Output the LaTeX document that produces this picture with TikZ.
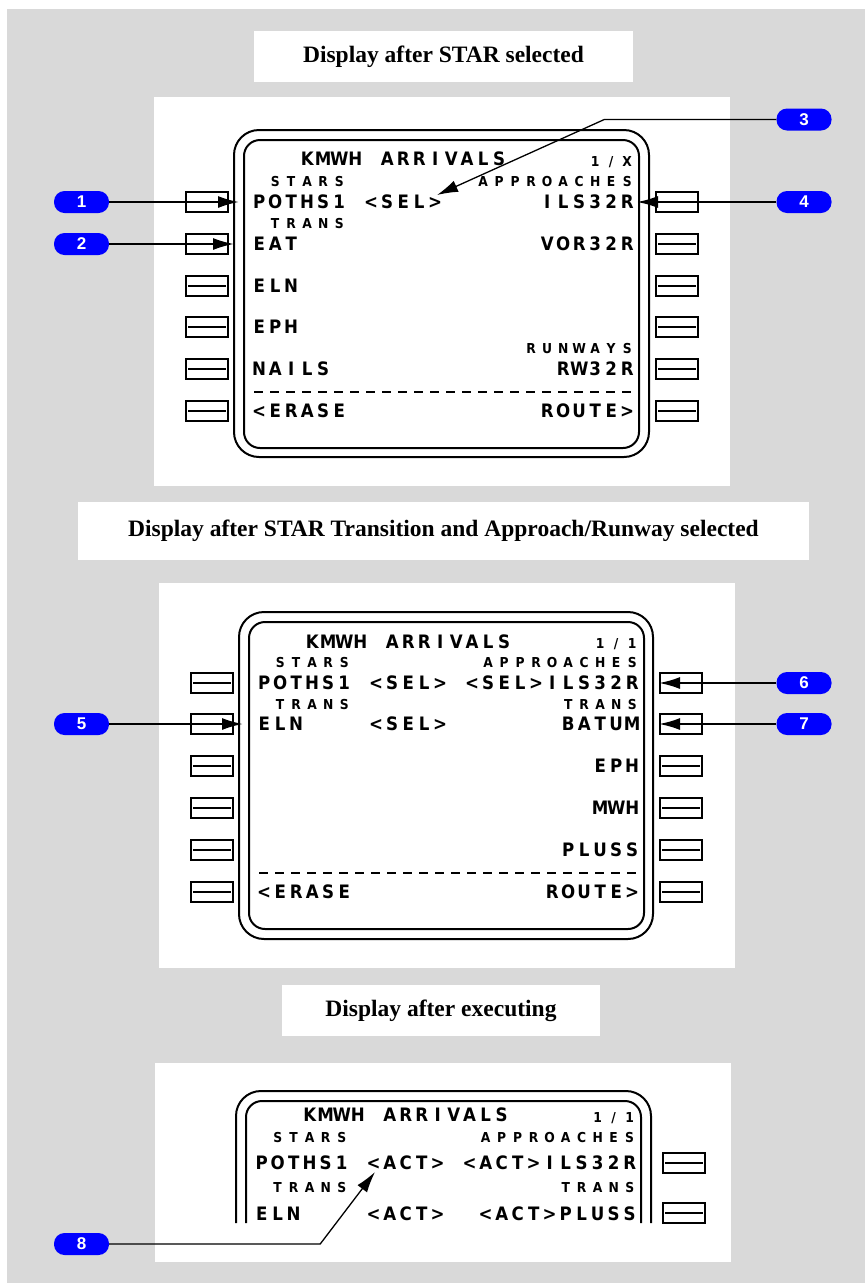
\documentclass[tikz,border=0pt]{standalone}
\usepackage{fontspec}
\setmainfont{Liberation Serif}
\setsansfont{Liberation Sans}
\newfontfamily\cdufont{DejaVu Sans Condensed}
\usetikzlibrary{arrows.meta}

% one character per cell of the CDU grid
\makeatletter
\def\cdu@end{\cdu@end}
\newcommand\spaced[1]{\cdu@next#1\cdu@end}
\def\cdu@next#1{\ifx#1\cdu@end\else\makebox[16pt]{#1}\expandafter\cdu@next\fi}
\makeatother

\tikzset{
  cdubig/.style={font=\cdufont\bfseries\fontsize{18.5}{20}\selectfont,anchor=west,inner sep=0pt,text height=13.5pt,text depth=0pt},
  cdusmall/.style={cdubig,font=\cdufont\bfseries\fontsize{13.7}{15}\selectfont,text height=10pt},
  screen/.style={line width=2pt},
  lsk/.style={draw,line width=2pt,minimum width=42pt,minimum height=20pt,inner sep=0pt},
  keybar/.style={line width=2pt},
  pill/.style={fill=blue,rounded corners=10.5pt,minimum width=55pt,minimum height=22pt,inner sep=0pt,text=white,font=\sffamily\bfseries\fontsize{17}{18}\selectfont},
  call/.style={line width=2pt,-{Latex[length=21pt,width=12pt]}},
  callthin/.style={call,line width=1.3pt},
  title/.style={fill=white,inner sep=0pt,font=\bfseries\fontsize{23.5}{26}\selectfont}
}

\begin{document}
\begin{tikzpicture}[x=1pt,y=-1pt]
  \useasboundingbox (0,0) rectangle (865,1283);
  \fill[gray!30] (7,9) rectangle (865,1283);
  % white panels
  \fill[white] (154,97) rectangle (730,486);
  \fill[white] (159,583) rectangle (735,968);
  \fill[white] (155,1063) rectangle (731,1262);
  % headings
  \node[title,minimum width=379pt,minimum height=51pt] (head1) at (443.5,56.5) {Display after STAR selected};
  \node[title,minimum width=731pt,minimum height=58pt] (head2) at (443.5,531) {Display after STAR Transition and Approach/Runway selected};
  \node[title,minimum width=318pt,minimum height=51pt] (head3) at (441,1010.5) {Display after executing};

  % display 1: after STAR selected
  \begin{scope}[shift={(234,130)}]
    \draw[screen,rounded corners=25pt] (0,0) rectangle (415,327);
    \draw[screen,rounded corners=16pt] (10,10) rectangle (405,318);
    \foreach \y [count=\i from 0] in {72,114,156,197,239,281} {
      \node[lsk] (d1l\i) at (-27,\y) {};
      \node[lsk] (d1r\i) at (443,\y) {};
    }
    \foreach \i in {2,...,5}
      \draw[keybar] ([xshift=3pt]d1l\i.west) -- ([xshift=-3pt]d1l\i.east);
    \foreach \i in {1,...,5}
      \draw[keybar] ([xshift=3pt]d1r\i.west) -- ([xshift=-3pt]d1r\i.east);
    \begin{scope}[xshift=17pt,x=16pt]
      \node[cdubig] (d1head) at (3,29) {\spaced{KMWH~ARRIVALS}};
      \node[cdusmall] (d1page) at (21,31) {\spaced{1/X}};
      \node[cdusmall] (d1stars) at (1,51.5) {\spaced{STARS}};
      \node[cdusmall] (d1appr) at (14,51.5) {\spaced{APPROACHES}};
      \node[cdubig] (d1star) at (0,72) {\spaced{POTHS1}};
      \node[cdubig] (d1sel) at (7,72) {\spaced{<SEL>}};
      \node[cdubig] (d1ils) at (18,72) {\spaced{ILS32R}};
      \node[cdusmall] (d1trans) at (1,93) {\spaced{TRANS}};
      \node[cdubig] (d1eat) at (0,114) {\spaced{EAT}};
      \node[cdubig] (d1vor) at (18,114) {\spaced{VOR32R}};
      \node[cdubig] (d1eln) at (0,156) {\spaced{ELN}};
      \node[cdubig] (d1eph) at (0,197) {\spaced{EPH}};
      \node[cdusmall] (d1rwys) at (17,218.5) {\spaced{RUNWAYS}};
      \node[cdubig] (d1nails) at (0,239) {\spaced{NAILS}};
      \node[cdubig] (d1rw) at (19,239) {\spaced{RW32R}};
      \draw[line width=1.6pt,dash pattern=on 9pt off 7pt] (0.2,262) -- (23.8,262);
      \node[cdubig] (d1erase) at (0,281) {\spaced{<ERASE}};
      \node[cdubig] (d1route) at (18,281) {\spaced{ROUTE>}};
    \end{scope}
    \coordinate (t1) at (5,72);
    \coordinate (t2) at (0,114);
    \coordinate (t3) at (203,65);
    \coordinate (t4) at (403,72);
  \end{scope}

  % display 2: after transition and approach selected
  \begin{scope}[shift={(239,612)}]
    \draw[screen,rounded corners=25pt] (0,0) rectangle (414,327);
    \draw[screen,rounded corners=16pt] (10,10) rectangle (405,317);
    \foreach \y [count=\i from 0] in {71,112,154,196,238,280} {
      \node[lsk] (d2l\i) at (-27,\y) {};
      \node[lsk] (d2r\i) at (442,\y) {};
    }
    \foreach \i in {0,2,3,4,5}
      \draw[keybar] ([xshift=3pt]d2l\i.west) -- ([xshift=-3pt]d2l\i.east);
    \foreach \i in {2,...,5}
      \draw[keybar] ([xshift=3pt]d2r\i.west) -- ([xshift=-3pt]d2r\i.east);
    \begin{scope}[xshift=17pt,x=16pt]
      \node[cdubig] (d2head) at (3,30) {\spaced{KMWH~ARRIVALS}};
      \node[cdusmall] (d2page) at (21,31) {\spaced{1/1}};
      \node[cdusmall] (d2stars) at (1,50.5) {\spaced{STARS}};
      \node[cdusmall] (d2appr) at (14,50.5) {\spaced{APPROACHES}};
      \node[cdubig] (d2star) at (0,71) {\spaced{POTHS1}};
      \node[cdubig] (d2sel) at (7,71) {\spaced{<SEL>}};
      \node[cdubig] (d2ils) at (13,71) {\spaced{<SEL>ILS32R}};
      \node[cdusmall] (d2trans) at (1,92) {\spaced{TRANS}};
      \node[cdusmall] (d2apptrans) at (19,92) {\spaced{TRANS}};
      \node[cdubig] (d2eln) at (0,112) {\spaced{ELN}};
      \node[cdubig] (d2elnsel) at (7,112) {\spaced{<SEL>}};
      \node[cdubig] (d2batum) at (19,112) {\spaced{BATUM}};
      \node[cdubig] (d2eph) at (21,154) {\spaced{EPH}};
      \node[cdubig] (d2mwh) at (21,196) {\spaced{MWH}};
      \node[cdubig] (d2pluss) at (19,238) {\spaced{PLUSS}};
      \draw[line width=1.6pt,dash pattern=on 9pt off 7pt] (0.2,261) -- (23.8,261);
      \node[cdubig] (d2erase) at (0,280) {\spaced{<ERASE}};
      \node[cdubig] (d2route) at (18,280) {\spaced{ROUTE>}};
    \end{scope}
    \coordinate (t5) at (4,112);
  \end{scope}

  % display 3: after executing (top part only)
  \begin{scope}[shift={(236,1091)}]
    \draw[screen,rounded corners=25pt] (0,132) -- (0,0) -- (415,0) -- (415,132);
    \draw[screen,rounded corners=16pt] (10,132) -- (10,10) -- (405,10) -- (405,132);
    \node[lsk] (d3r0) at (448,72) {};
    \node[lsk] (d3r1) at (448,122) {};
    \foreach \i in {0,1}
      \draw[keybar] ([xshift=3pt]d3r\i.west) -- ([xshift=-3pt]d3r\i.east);
    \begin{scope}[xshift=17.5pt,x=16pt]
      \node[cdubig] (d3head) at (3,24) {\spaced{KMWH~ARRIVALS}};
      \node[cdusmall] (d3page) at (21,26) {\spaced{1/1}};
      \node[cdusmall] (d3stars) at (1,46) {\spaced{STARS}};
      \node[cdusmall] (d3appr) at (14,46) {\spaced{APPROACHES}};
      \node[cdubig] (d3star) at (0,72) {\spaced{POTHS1}};
      \node[cdubig] (d3act) at (7,72) {\spaced{<ACT>}};
      \node[cdubig] (d3ils) at (13,72) {\spaced{<ACT>ILS32R}};
      \node[cdusmall] (d3trans) at (1,96) {\spaced{TRANS}};
      \node[cdusmall] (d3apptrans) at (19,96) {\spaced{TRANS}};
      \node[cdubig] (d3eln) at (0,123) {\spaced{ELN}};
      \node[cdubig] (d3elnact) at (7,123) {\spaced{<ACT>}};
      \node[cdubig] (d3pluss) at (14,123) {\spaced{<ACT>PLUSS}};
    \end{scope}
    \coordinate (t8) at (139,81);
  \end{scope}

  % callouts
  \node[pill] (c1) at (81.5,202) {1};
  \node[pill] (c2) at (81.5,244) {2};
  \node[pill] (c3) at (804,119.5) {3};
  \node[pill] (c4) at (804,202) {4};
  \node[pill] (c5) at (81.5,724) {5};
  \node[pill] (c6) at (804,683) {6};
  \node[pill] (c7) at (804,724) {7};
  \node[pill] (c8) at (81.5,1244) {8};
  \draw[call] (c1.east) -- (t1);
  \draw[call] (c2.east) -- (t2);
  \draw[callthin] (c3.west) -- ++(-172,0) -- (t3);
  \draw[call] (c4.west) -- (t4);
  \draw[call] (c5.east) -- (t5);
  \draw[call] (c6.west) -- (d2r0.west);
  \draw[call] (c7.west) -- (d2r1.west);
  \draw[callthin] (c8.east) -- ++(211,0) -- (t8);
\end{tikzpicture}
\end{document}
